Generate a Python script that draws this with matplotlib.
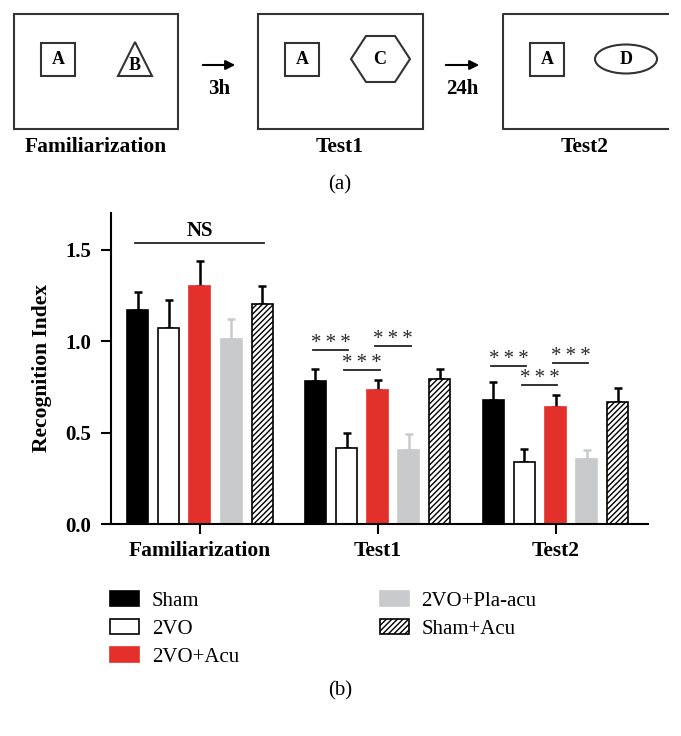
import numpy as np
import matplotlib
matplotlib.use("Agg")
import matplotlib.pyplot as plt
from matplotlib.patches import Rectangle, Polygon, Ellipse

plt.rcParams['font.family'] = ['Liberation Serif', 'DejaVu Serif']
plt.rcParams['hatch.linewidth'] = 1.0

# ---- data ----
groups = ['Familiarization', 'Test1', 'Test2']
series = ['Sham', '2VO', '2VO+Acu', '2VO+Pla-acu', 'Sham+Acu']

sham = [1.17, 0.78, 0.68]
sham_err = [0.10, 0.066, 0.095]
vo = [1.07, 0.415, 0.34]
vo_err = [0.155, 0.08, 0.07]
acu = [1.30, 0.73, 0.64]
acu_err = [0.14, 0.055, 0.065]
pla = [1.01, 0.405, 0.355]
pla_err = [0.11, 0.085, 0.05]
sham_acu = [1.20, 0.79, 0.665]
sham_acu_err = [0.10, 0.06, 0.08]

values = [sham, vo, acu, pla, sham_acu]
errors = [sham_err, vo_err, acu_err, pla_err, sham_acu_err]

# significance brackets: (group, first series, last series, height, label)
brackets = [
    (0, 0, 4, 1.535, 'NS'),
    (1, 0, 1, 0.951, '***'),
    (1, 1, 2, 0.843, '***'),
    (1, 2, 3, 0.974, '***'),
    (2, 0, 1, 0.862, '***'),
    (2, 1, 2, 0.761, '***'),
    (2, 2, 3, 0.881, '***'),
]

yticks = [0.0, 0.5, 1.0, 1.5]

# ---- styles ----
red = '#e4302b'
gray = '#c9cacc'
face = ['black', 'white', red, gray, 'white']
edge = ['black', 'black', red, gray, 'black']
hatches = [None, None, None, None, '//////']
err_col = ['black', 'black', 'black', gray, 'black']

W, H = 681, 736
fig = plt.figure(figsize=(W / 100, H / 100), dpi=100)

# ---- panel (a): schematic, drawn in pixel coords ----
top = fig.add_axes([0, 0, 1, 1])
top.set_xlim(0, W)
top.set_ylim(H, 0)
top.axis('off')

lk = dict(color='#333333', lw=1.5)
for x0, x1 in [(13.5, 178), (258, 423)]:
    top.add_patch(Rectangle((x0, 14), x1 - x0, 115, fill=False, ec='#333333', lw=1.5))
# third box is cut at the right border
top.plot([668, 503, 503, 668], [14, 14, 129, 129], **lk)

for x0 in [41, 285, 530]:
    top.add_patch(Rectangle((x0, 43), 34, 33, fill=False, ec='#333333', lw=1.5))
    top.text(x0 + 17, 60, 'A', ha='center', va='center', fontsize=13, fontweight='bold')

top.add_patch(Polygon([(135, 42), (118, 76), (152, 76)], closed=True, fill=False, ec='#333333', lw=1.5))
top.text(135, 65, 'B', ha='center', va='center', fontsize=13, fontweight='bold')

top.add_patch(Polygon([(351, 59), (366, 36), (395, 36), (410, 59), (395, 82), (366, 82)],
                      closed=True, fill=False, ec='#333333', lw=1.5))
top.text(380, 60, 'C', ha='center', va='center', fontsize=13, fontweight='bold')

top.add_patch(Ellipse((626, 59), 62, 29, fill=False, ec='#333333', lw=1.5))
top.text(626, 60, 'D', ha='center', va='center', fontsize=13, fontweight='bold')

for x0, x1, lab in [(200, 238, '3h'), (443, 482, '24h')]:
    top.annotate('', xy=(x1, 65), xytext=(x0, 65),
                 arrowprops=dict(arrowstyle='-|>', color='black', lw=1.5, mutation_scale=14))
    top.text((x0 + x1) / 2, 89, lab, ha='center', va='center', fontsize=15, fontweight='bold')

for x, lab in [(96, 'Familiarization'), (340, 'Test1'), (585, 'Test2')]:
    top.text(x, 147, lab, ha='center', va='center', fontsize=15.5, fontweight='bold')
top.text(340, 185, '(a)', ha='center', va='center', fontsize=15)
top.text(340, 691, '(b)', ha='center', va='center', fontsize=15)

# ---- panel (b): bar chart ----
ax = fig.add_axes([111 / W, (H - 524) / H, (648 - 111) / W, (524 - 213) / H])
x = np.arange(len(groups))
step = 0.175
width = 0.118

handles = []
for i, name in enumerate(series):
    pos = x + (i - 2) * step
    b = ax.bar(pos, values[i], width, color=face[i], edgecolor=edge[i],
               hatch=hatches[i], linewidth=1.2, label=name, zorder=2)
    ax.errorbar(pos, values[i], yerr=[np.zeros(len(groups)), errors[i]], fmt='none',
                ecolor=err_col[i], elinewidth=1.8, capsize=3.2, capthick=1.8, zorder=1)
    handles.append(b)

for g, i0, i1, yv, lab in brackets:
    xa = g + (i0 - 2) * step - 0.015
    xb = g + (i1 - 2) * step + 0.01
    ax.plot([xa, xb], [yv, yv], color='#222222', lw=1.3, clip_on=False)
    if lab == 'NS':
        ax.text((xa + xb) / 2, yv + 0.012, lab, ha='center', va='bottom',
                fontsize=15, fontweight='bold')
    else:
        ax.text((xa + xb) / 2, yv - 0.016, '\u2009'.join(lab), ha='center', va='bottom',
                fontsize=15, color='#2a2a2a')

ax.set_xlim(-0.5, 2.52)
ax.set_ylim(0, 1.70)
ax.set_xticks(x)
ax.set_xticklabels(groups, fontsize=15.5, fontweight='bold')
ax.set_yticks(yticks)
ax.set_yticklabels(['%.1f' % t for t in yticks], fontsize=15, fontweight='bold')
ax.set_ylabel('Recognition Index', fontsize=15.5, fontweight='bold', labelpad=10)
ax.spines['top'].set_visible(False)
ax.spines['right'].set_visible(False)
for s in ['left', 'bottom']:
    ax.spines[s].set_linewidth(1.5)
ax.tick_params(width=1.5, length=7)
ax.tick_params(axis='x', pad=5)
ax.tick_params(axis='y', pad=7)
ax.patch.set_alpha(0)

fig.legend(handles=handles, labels=series, ncol=2, loc='upper left',
           bbox_to_anchor=(110 / W, 1 - 591 / H), frameon=False, fontsize=15,
           borderpad=0, borderaxespad=0, handlelength=1.4, handleheight=0.72,
           handletextpad=0.6, labelspacing=0.4, columnspacing=6.75)

fig.savefig('out.png', dpi=100)
